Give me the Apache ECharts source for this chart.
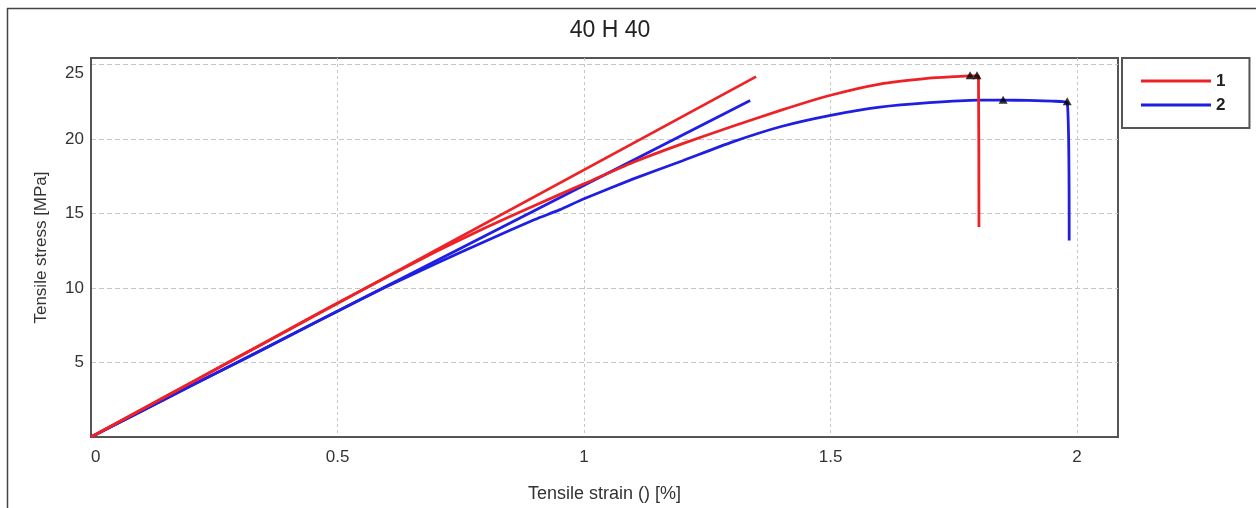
<!DOCTYPE html>
<html>
<head>
<meta charset="utf-8">
<title>40 H 40</title>
<script src="https://cdn.jsdelivr.net/npm/echarts@6/dist/echarts.min.js"></script>
<style>
  html, body { margin: 0; padding: 0; background: #fff; }
  #chart { width: 1256px; height: 508px; }
</style>
</head>
<body>
<div id="chart"></div>
<script>
// specimen 1 (red) measured curve
const strain1 = [0, 0.1, 0.2, 0.3, 0.4, 0.5, 0.6, 0.7, 0.8, 0.9, 1.0, 1.1, 1.2, 1.3, 1.4, 1.5, 1.6, 1.7, 1.75, 1.783, 1.797, 1.8, 1.801]
const stress1 = [0, 1.8, 3.6, 5.4, 7.2, 9.0, 10.75, 12.45, 14.05, 15.55, 17.0, 18.45, 19.7, 20.85, 21.95, 22.95, 23.7, 24.1, 24.2, 24.25, 24.25, 24.2, 14.1]
// specimen 2 (blue) measured curve
const strain2 = [0, 0.1, 0.2, 0.3, 0.4, 0.5, 0.6, 0.7, 0.8, 0.9, 0.95, 1.0, 1.1, 1.2, 1.3, 1.4, 1.5, 1.6, 1.7, 1.8, 1.85, 1.9, 1.95, 1.98, 1.984]
const stress2 = [0, 1.7, 3.4, 5.05, 6.75, 8.45, 10.1, 11.65, 13.15, 14.6, 15.25, 16.0, 17.33, 18.55, 19.8, 20.85, 21.6, 22.15, 22.45, 22.62, 22.62, 22.6, 22.55, 22.45, 13.2]
// modulus lines
const modStrain1 = [0, 1.349]
const modStress1 = [0, 24.2]
const modStrain2 = [0, 1.337]
const modStress2 = [0, 22.6]
// black triangle markers
const markStrain1 = [1.783, 1.797]
const markStress1 = [24.3, 24.3]
const markStrain2 = [1.85, 1.98]
const markStress2 = [22.65, 22.55]

const seriesNames = ['1', '2']
const xTicks = [0, 0.5, 1, 1.5, 2]
const yTicks = [5, 10, 15, 20, 25]

const RED = '#ee2226'
const BLUE = '#1f1fe4'
const FONT = 'Liberation Sans, Arial, sans-serif'

const pairs = (xs, ys) => xs.map((x, i) => [x, ys[i]])

function lineSeries(name, color, xs, ys) {
  return {
    type: 'line',
    name,
    data: pairs(xs, ys),
    showSymbol: false,
    symbol: 'none',
    lineStyle: { color, width: 2.8 },
    itemStyle: { color },
    smooth: 0.2,
    z: 3,
  }
}

const chart = echarts.init(document.getElementById('chart'))

chart.setOption({
  animation: false,
  backgroundColor: '#fff',
  title: {
    text: '40 H 40',
    left: 605,
    textAlign: 'center',
    top: 14,
    textStyle: { fontFamily: FONT, fontSize: 23, fontWeight: 'normal', color: '#222' },
  },
  legend: {
    data: seriesNames,
    orient: 'vertical',
    left: 1122,
    top: 58,
    icon: 'rect',
    itemWidth: 70,
    itemHeight: 3,
    itemGap: 4,
    padding: [13, 24, 13, 19],
    borderColor: '#555',
    borderWidth: 2,
    textStyle: { fontFamily: FONT, fontSize: 17, fontWeight: 'bold', color: '#222', lineHeight: 20 },
  },
  grid: {
    left: 91,
    right: 138,
    top: 58,
    bottom: 68,
    show: true,
    borderColor: '#555',
    borderWidth: 2,
    containLabel: false,
  },
  xAxis: {
    type: 'value',
    min: 0,
    max: 2.083,
    interval: 0.5,
    name: 'Tensile strain () [%]',
    nameLocation: 'middle',
    nameGap: 48,
    nameTextStyle: { fontFamily: FONT, fontSize: 18, color: '#333' },
    axisLine: { show: true, lineStyle: { color: '#555', width: 2 } },
    axisTick: { show: false },
    axisLabel: {
      fontFamily: FONT,
      fontSize: 17,
      color: '#333',
      margin: 12,
      alignMinLabel: 'left',
      formatter: v => (xTicks.includes(v) ? String(v) : ''),
    },
    splitLine: { show: true, showMaxLine: false, lineStyle: { color: '#c6c6c6', width: 1, type: [3, 3] } },
  },
  yAxis: {
    type: 'value',
    min: 0,
    max: 25.45,
    interval: 5,
    name: 'Tensile stress [MPa]',
    nameLocation: 'middle',
    nameGap: 41,
    nameTextStyle: { fontFamily: FONT, fontSize: 17, color: '#333' },
    axisLine: { show: true, lineStyle: { color: '#555', width: 2 } },
    axisTick: { show: false },
    axisLabel: {
      fontFamily: FONT,
      fontSize: 17,
      color: '#333',
      margin: 7,
      formatter: v => {
        if (!yTicks.includes(v)) return ''
        return v === 25 ? '{top|25}' : String(v)
      },
      rich: {
        top: { fontFamily: FONT, fontSize: 17, color: '#333', padding: [17, 0, 0, 0] },
      },
    },
    splitLine: { show: true, showMaxLine: false, lineStyle: { color: '#c6c6c6', width: 1, type: [5, 3] } },
  },
  graphic: [
    { type: 'line', shape: { x1: 7.5, y1: 8, x2: 7.5, y2: 508 }, style: { stroke: '#444', lineWidth: 1.5 } },
    { type: 'line', shape: { x1: 7, y1: 8.5, x2: 1256, y2: 8.5 }, style: { stroke: '#444', lineWidth: 1.5 } },
  ],
  series: [
    lineSeries('2', BLUE, strain2, stress2),
    lineSeries('2', BLUE, modStrain2, modStress2),
    lineSeries('1', RED, strain1, stress1),
    lineSeries('1', RED, modStrain1, modStress1),
    {
      type: 'scatter',
      name: 'peaks',
      data: pairs(markStrain1, markStress1).concat(pairs(markStrain2, markStress2)),
      symbol: 'triangle',
      symbolSize: [9, 8],
      itemStyle: { color: '#000' },
      z: 5,
    },
  ],
})
</script>
</body>
</html>
